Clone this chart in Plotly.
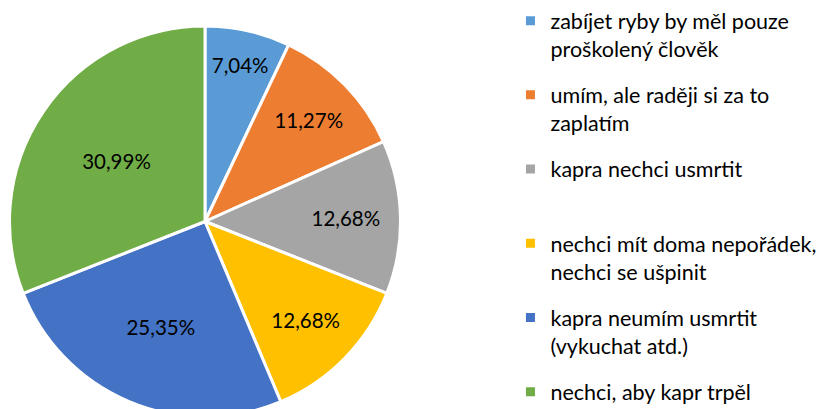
import plotly.graph_objects as go

# ---- data ----
categories = [
    "zabíjet ryby by měl pouze proškolený člověk",
    "umím, ale raději si za to zaplatím",
    "kapra nechci usmrtit",
    "nechci mít doma nepořádek, nechci se ušpinit",
    "kapra neumím usmrtit (vykuchat atd.)",
    "nechci, aby kapr trpěl",
]
legend_labels = [
    "zabíjet ryby by měl pouze<br>proškolený člověk",
    "umím, ale raději si za to<br>zaplatím",
    "kapra nechci usmrtit<br>\u00a0",
    "nechci mít doma nepořádek,<br>nechci se ušpinit",
    "kapra neumím usmrtit<br>(vykuchat atd.)",
    "nechci, aby kapr trpěl",
]
percent_values = [7.04, 11.27, 12.68, 12.68, 25.35, 30.99]
colors = ["#5B9BD5", "#ED7D31", "#A5A5A5", "#FFC000", "#4472C4", "#70AD47"]

FONT = "Lato, 'Open Sans', sans-serif"

fig = go.Figure()
fig.add_trace(go.Pie(
    labels=categories,
    values=percent_values,
    sort=False,
    direction="clockwise",
    rotation=0,
    marker=dict(colors=colors, line=dict(color="white", width=3)),
    texttemplate="%{value:.2f}%",
    textposition="inside",
    insidetextorientation="horizontal",
    textfont=dict(family=FONT, size=20.5, color="black"),
    showlegend=False,
    domain=dict(x=[0, 0.477], y=[0, 1]),
    hoverinfo="label+percent",
))

# legend entries (one group each so spacing can be controlled)
for i, (lab, col) in enumerate(zip(legend_labels, colors)):
    fig.add_trace(go.Scatter(
        x=[None], y=[None], mode="markers",
        marker=dict(symbol="square", size=9, color=col),
        name=lab, legendgroup=str(i), showlegend=True,
    ))

fig.update_layout(
    width=826, height=409,
    margin=dict(l=0, r=0, t=18, b=0, autoexpand=False),
    paper_bgcolor="white", plot_bgcolor="white",
    separators=", ",
    font=dict(family=FONT, color="black"),
    xaxis=dict(visible=False), yaxis=dict(visible=False),
    legend=dict(
        x=0.6083, y=1.066, xanchor="left", yanchor="top",
        font=dict(family=FONT, size=21.5, color="black"),
        tracegroupgap=15.3, valign="top", itemwidth=30,
        bgcolor="rgba(0,0,0,0)", maxheight=420,
    ),
)

fig.write_html("out.html")
